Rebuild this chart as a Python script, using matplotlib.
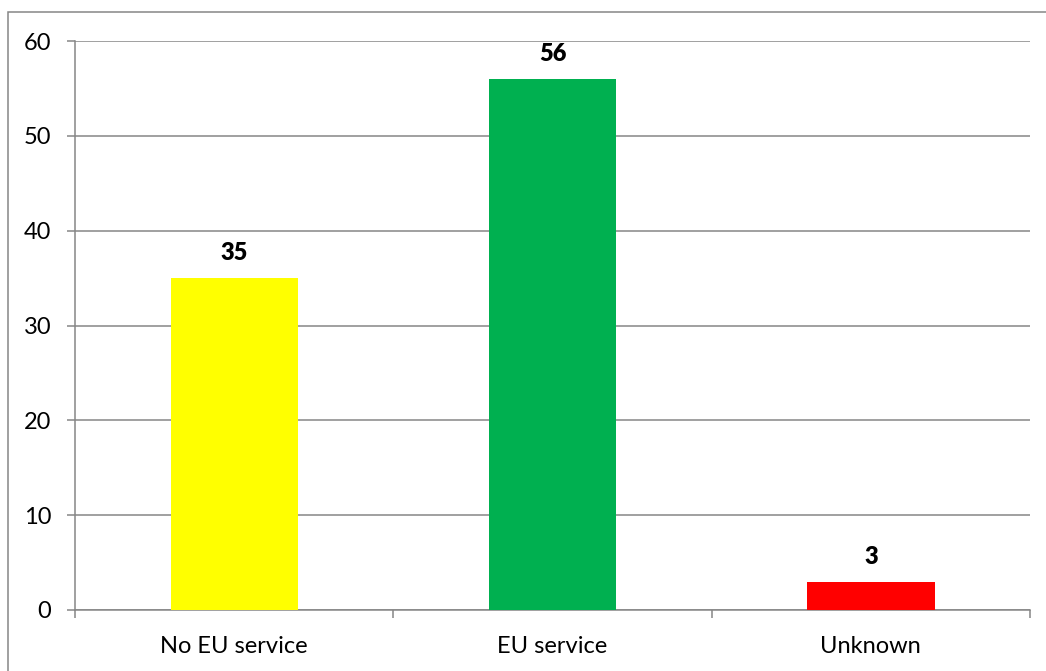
import matplotlib.pyplot as plt
from matplotlib.patches import Rectangle

categories = ["No EU service", "EU service", "Unknown"]
values = [35, 56, 3]
bar_colors = ["#FFFF00", "#00B050", "#FF0000"]

plt.rcParams['font.family'] = ['Lato', 'DejaVu Sans']

fig = plt.figure(figsize=(10.46, 6.71), dpi=100)
ax = fig.add_axes([75 / 1046, 1 - 610 / 671, 955 / 1046, 569 / 671])

gray = "#868686"
x = list(range(len(categories)))
bars = ax.bar(x, values, width=0.4, color=bar_colors, zorder=3)

for xi, v in zip(x, values):
    ax.annotate(str(v), (xi, v), xytext=(0, 10), textcoords="offset points",
                ha="center", va="bottom", fontsize=17, fontweight="heavy")

ax.set_xlim(-0.5, 2.5)
ax.set_ylim(0, 60)
ax.set_yticks(range(0, 61, 10))
ax.yaxis.grid(True, color=gray, linewidth=1.1, zorder=0)
ax.set_axisbelow(True)

ax.set_xticks([-0.5, 0.5, 1.5, 2.5])
ax.set_xticklabels([])
ax.set_xticks(x, minor=True)
ax.set_xticklabels(categories, minor=True)
ax.tick_params(axis="x", which="major", length=6, width=1.1, color=gray, direction="out")
ax.tick_params(axis="x", which="minor", length=0, pad=19, labelsize=17)
ax.tick_params(axis="y", length=6, width=1.1, color=gray, pad=11, labelsize=17)

for side in ["top", "right"]:
    ax.spines[side].set_visible(False)
for side in ["left", "bottom"]:
    ax.spines[side].set_color(gray)
    ax.spines[side].set_linewidth(1.1)

# chart area border
fig.patches.append(Rectangle((7.5, -20), 1100, 671 - 11.5 + 20, transform=None,
                             fill=False, edgecolor=gray, linewidth=1.1))

fig.savefig("out.png", dpi=100)
